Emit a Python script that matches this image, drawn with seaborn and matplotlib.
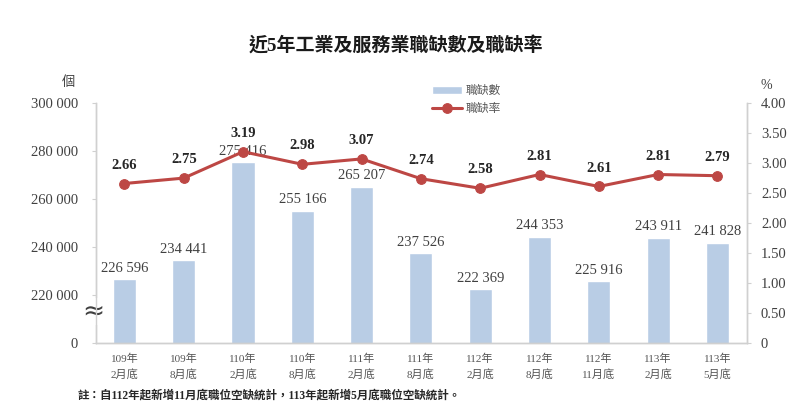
import numpy as np
import pandas as pd
import matplotlib
matplotlib.use("Agg")
import matplotlib.pyplot as plt
import seaborn as sns

# data
periods = ["109年\n2月底", "109年\n8月底", "110年\n2月底", "110年\n8月底", "111年\n2月底",
           "111年\n8月底", "112年\n2月底", "112年\n8月底", "112年\n11月底", "113年\n2月底",
           "113年\n5月底"]
vacancies = [226596, 234441, 275416, 255166, 265207, 237526, 222369, 244353, 225916, 243911, 241828]
rates = [2.66, 2.75, 3.19, 2.98, 3.07, 2.74, 2.58, 2.81, 2.61, 2.81, 2.79]
left_ticks = [200000, 220000, 240000, 260000, 280000, 300000]
left_labels = ["0", "220 000", "240 000", "260 000", "280 000", "300 000"]
right_ticks = [0, 0.5, 1.0, 1.5, 2.0, 2.5, 3.0, 3.5, 4.0]

df = pd.DataFrame({"period": periods, "pos": range(len(periods)),
                   "vacancies": vacancies, "rate": rates})

sns.set_style("white")
plt.rcParams["font.family"] = ["Liberation Serif", "Noto Sans CJK TC"]

bar_color = "#b9cde5"
line_color = "#bd4744"
spine_color = "#d0d0d0"

fig = plt.figure(figsize=(8, 4.11), dpi=100)
ax = fig.add_axes([0.12, 0.1655, 0.8138, 0.5835])

sns.barplot(data=df, x="period", y="vacancies", color=bar_color, width=0.39,
            saturation=1, ax=ax, label="職缺數")
ax.set_ylim(200000, 300000)
ax.set_xlim(-0.48, 10.5)
ax.set_yticks(left_ticks)
ax.set_yticklabels(left_labels)
ax.set_xlabel("")
ax.set_ylabel("")
for i, v in enumerate(vacancies):
    ax.text(i, v + 1800, f"{v:,}".replace(",", " "), ha="center", va="bottom",
            fontsize=10.5, color="#404040")

ax2 = ax.twinx()
sns.lineplot(data=df, x="pos", y="rate", color=line_color, linewidth=2.2, marker="o",
             markersize=7, markeredgecolor=line_color, sort=False, ax=ax2, label="職缺率")
ax2.set_ylim(0, 4)
ax2.set_yticks(right_ticks)
ax2.set_yticklabels(["0"] + [f"{t:.2f}" for t in right_ticks[1:]])
ax2.set_ylabel("")
ax2.set_xlabel("")
for i, r in enumerate(rates):
    ax2.text(i, r + 0.2, f"{r:.2f}", ha="center", va="bottom", fontsize=10.5,
             fontweight="bold", color="#262626")

ax.set_xticks(range(len(periods)))
ax.set_xticklabels(periods, fontsize=8, color="#555555", linespacing=1.5)

for a in (ax, ax2):
    for s in a.spines.values():
        s.set_color(spine_color)
        s.set_linewidth(1)
    a.spines["top"].set_visible(False)
ax.tick_params(axis="y", length=3, color=spine_color, pad=10, labelsize=10.5,
               labelcolor="#404040")
ax.tick_params(axis="x", length=0, pad=8)
ax2.tick_params(axis="y", length=3, color=spine_color, pad=7, labelsize=10.5,
                labelcolor="#404040")

# legend: one combined legend, drop the ones seaborn made
h1, l1 = ax.get_legend_handles_labels()
h2, l2 = ax2.get_legend_handles_labels()
for a in (ax, ax2):
    if a.get_legend():
        a.get_legend().remove()
ax2.legend(h1 + h2, l1 + l2, loc="upper left", bbox_to_anchor=(0.5, 1.12),
           frameon=False, fontsize=8.5, labelcolor="#555555", handlelength=2.5,
           handletextpad=0.3, labelspacing=0.5)

# axis break mark and units
ax.text(-0.004, 213000, "≈", transform=ax.get_yaxis_transform(), ha="center",
        va="center", fontsize=19, color="#404040", family=["DejaVu Sans"],
        bbox=dict(facecolor="white", edgecolor="none", pad=0.3), clip_on=False)
fig.text(0.085, 0.80, "個", fontsize=9.5, color="#404040", ha="center", va="center")
fig.text(0.958, 0.793, "%", fontsize=10, color="#404040", ha="center", va="center")

fig.text(0.495, 0.888, "近5年工業及服務業職缺數及職缺率", ha="center", va="center",
         fontsize=13.7, fontweight="bold", color="#1a1a1a")
fig.text(0.097, 0.037, "註：自112年起新增11月底職位空缺統計，113年起新增5月底職位空缺統計。",
         ha="left", va="center", fontsize=8.3, fontweight="bold", color="#262626")

fig.savefig("out.png", dpi=100)
